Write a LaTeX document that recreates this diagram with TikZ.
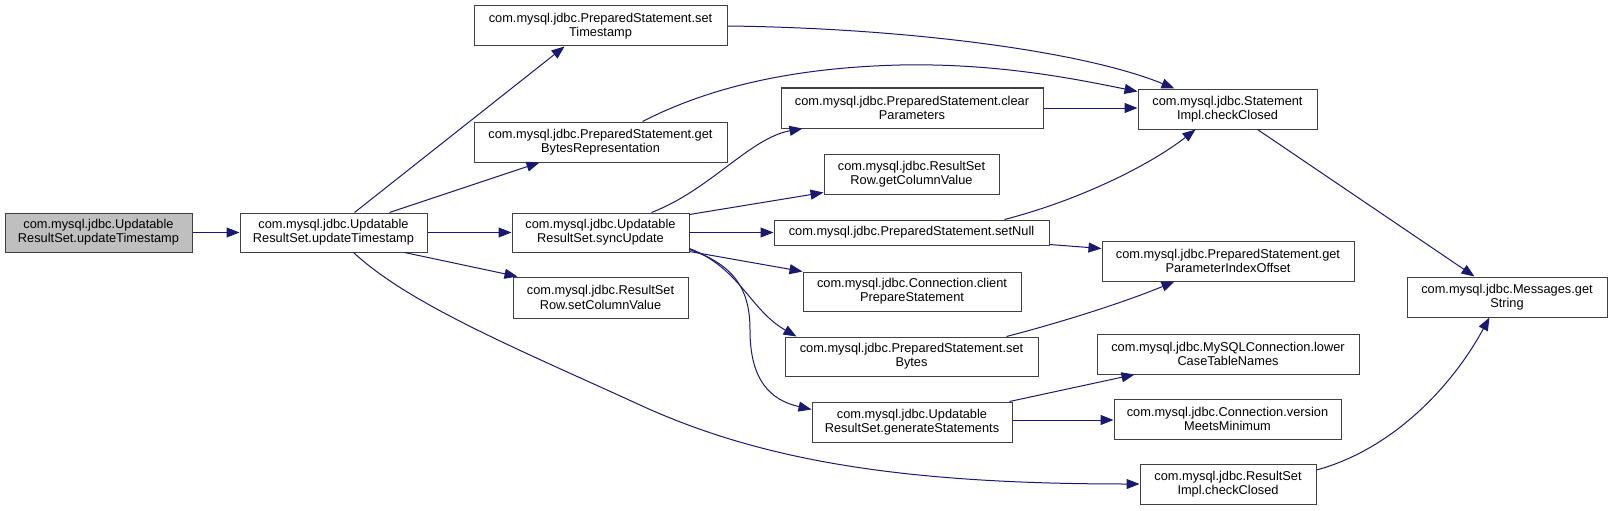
\documentclass[tikz,border=0pt]{standalone}
\usepackage{fontspec}
\setmainfont{Liberation Sans}
\usetikzlibrary{arrows.meta}
\definecolor{edgeblue}{HTML}{191970}
\definecolor{boxline}{HTML}{404040}
\definecolor{graybox}{HTML}{BFBFBF}
\begin{document}
\begin{tikzpicture}[x=1pt,y=-1pt,
 box/.style={draw=boxline, line width=1pt, fill=white, rectangle, inner sep=0pt, minimum height=40pt, align=center, font=\fontsize{12.8}{14.3}\selectfont},
 edge/.style={draw=edgeblue, line width=1pt, -{Triangle[length=13pt,width=10pt]}}]
\useasboundingbox[fill=white] (0,0) rectangle (1612,511);
\node[box, fill=graybox, minimum width=187pt, minimum height=39pt] (A) at (98.5,232.5) {com.mysql.jdbc.Updatable\\ResultSet.updateTimestamp};
\node[box, minimum width=187pt, minimum height=39pt] (B) at (333.5,232.5) {com.mysql.jdbc.Updatable\\ResultSet.updateTimestamp};
\node[box, minimum width=253pt] (C) at (600.5,26) {com.mysql.jdbc.PreparedStatement.set\\Timestamp};
\node[box, minimum width=253pt] (D) at (600.5,142) {com.mysql.jdbc.PreparedStatement.get\\BytesRepresentation};
\node[box, minimum width=177pt, minimum height=39pt] (E) at (600.5,232.5) {com.mysql.jdbc.Updatable\\ResultSet.syncUpdate};
\node[box, minimum width=175pt, minimum height=41pt] (F) at (600.5,297.5) {com.mysql.jdbc.ResultSet\\Row.setColumnValue};
\node[box, minimum width=262pt] (G) at (912,108) {com.mysql.jdbc.PreparedStatement.clear\\Parameters};
\node[box, minimum width=175pt] (H) at (911.5,174) {com.mysql.jdbc.ResultSet\\Row.getColumnValue};
\node[box, minimum width=275pt, minimum height=25pt] (I) at (911.5,232.5) {com.mysql.jdbc.PreparedStatement.setNull};
\node[box, minimum width=218pt, minimum height=39pt] (J) at (912,291.5) {com.mysql.jdbc.Connection.client\\PrepareStatement};
\node[box, minimum width=253pt, minimum height=39pt] (K) at (911.5,356.5) {com.mysql.jdbc.PreparedStatement.set\\Bytes};
\node[box, minimum width=200pt] (L) at (912,422) {com.mysql.jdbc.Updatable\\ResultSet.generateStatements};
\node[box, minimum width=179pt] (M) at (1227.5,109) {com.mysql.jdbc.Statement\\Impl.checkClosed};
\node[box, minimum width=252pt] (N) at (1228,261) {com.mysql.jdbc.PreparedStatement.get\\ParameterIndexOffset};
\node[box, minimum width=262pt] (O) at (1228,354) {com.mysql.jdbc.MySQLConnection.lower\\CaseTableNames};
\node[box, minimum width=227pt] (P) at (1227.5,419) {com.mysql.jdbc.Connection.version\\MeetsMinimum};
\node[box, minimum width=176pt] (Q) at (1228,484) {com.mysql.jdbc.ResultSet\\Impl.checkClosed};
\node[box, minimum width=200pt] (R) at (1507,297) {com.mysql.jdbc.Messages.get\\String};

\draw[edge] (A.east) -- (B.west);
\draw[edge] ([xshift=115pt]B.north west) -- ([xshift=91pt]C.south west);
\draw[edge] ([xshift=150pt]B.north west) -- ([xshift=66pt]D.south west);
\draw[edge] (B.east) -- (E.west);
\draw[edge] ([xshift=165pt]B.south west) -- ([xshift=5pt]F.north west);
\draw[edge] ([xshift=114pt]B.south west) .. controls (410,305) and (520,350) .. (640,405) .. controls (760,460) and (900,484) .. (Q.west);
\draw[edge] (C.east) .. controls (900,28) and (1080,50) .. ([xshift=37pt]M.north west);
\draw[edge] ([xshift=169pt]D.north west) .. controls (700,92) and (780,68) .. (900,65) .. controls (1000,63) and (1080,80) .. ([yshift=-3pt]M.north west);
\draw[edge] (G.east) -- (G.east -| M.west);
\draw[edge] ([xshift=231pt]I.north west) .. controls (1080,200) and (1150,165) .. ([xshift=58pt]M.south west);
\draw[edge] ([xshift=120pt]M.south west) -- ([xshift=68pt]R.north west);
\draw[edge] ([yshift=14pt]Q.east) .. controls (1390,450) and (1450,390) .. ([xshift=83pt]R.south west);
\draw[edge] ([xshift=140pt]E.north west) .. controls (710,190) and (750,138) .. ([xshift=22pt]G.south west);
\draw[edge] ([yshift=-2pt]E.north east) -- ([yshift=2pt]H.south west);
\draw[edge] (E.east) -- (I.west);
\draw[edge] ([yshift=1pt]E.south east) -- (J.north west);
\draw[edge] ([yshift=4pt]E.south east) .. controls (740,268) and (750,310) .. ([xshift=12pt]K.north west);
\draw[edge] ([yshift=3pt]E.south east) .. controls (735,265) and (750,290) .. (750,330) .. controls (750,380) and (770,400) .. ([yshift=-8pt]L.north west);
\draw[edge] ([yshift=1pt]I.south east) -- ([yshift=-8pt]N.north west);
\draw[edge] ([xshift=222pt]K.north west) .. controls (1070,320) and (1130,300) .. ([xshift=73pt]N.south west);
\draw[edge] ([xshift=198pt]L.north west) -- ([xshift=38pt]O.south west);
\coordinate (l2) at ([yshift=2pt]L.east);
\draw[edge] (l2) -- (l2 -| P.west);
\end{tikzpicture}
\end{document}
